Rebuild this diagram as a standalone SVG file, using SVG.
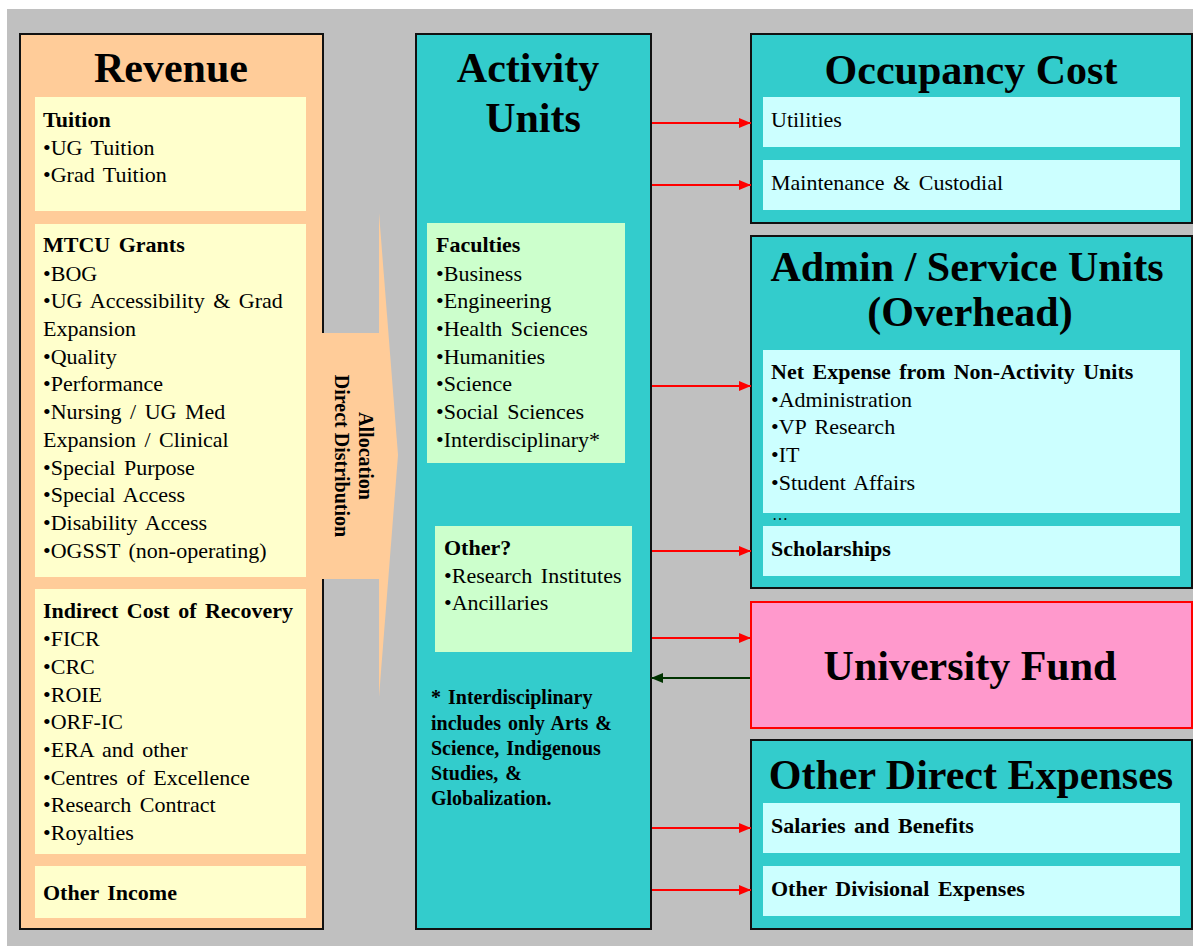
<svg xmlns="http://www.w3.org/2000/svg" width="1193" height="946" viewBox="0 0 1193 946">
<defs>
<style>
.t{font-family:"Liberation Serif","Times New Roman",serif;fill:#000}
.title{font-size:42px;font-weight:bold;text-anchor:middle}
.b{font-size:22px;word-spacing:3px}
.bb{font-size:22px;font-weight:bold;word-spacing:3px}
.note{font-size:20px;font-weight:bold;word-spacing:2px}
.outer{stroke:#111;stroke-width:2}
.red{stroke:#FF0000;stroke-width:2;fill:none}
</style>
<marker id="ah" viewBox="0 0 12 10" refX="12" refY="5" markerWidth="12" markerHeight="10" markerUnits="userSpaceOnUse" orient="auto">
<path d="M0,0 L12,5 L0,10 z" fill="#FF0000"/>
</marker>
<marker id="ahg" viewBox="0 0 12 10" refX="12" refY="5" markerWidth="12" markerHeight="10" markerUnits="userSpaceOnUse" orient="auto">
<path d="M0,0 L12,5 L0,10 z" fill="#003300"/>
</marker>
</defs>
<rect x="0" y="0" width="1193" height="946" fill="#FFFFFF"/>
<rect x="7" y="9" width="1186" height="937" fill="#C0C0C0"/>

<g id="revenue">
<rect class="outer" x="20" y="34" width="303" height="895" fill="#FFCC99"/>
<text class="t title" x="171" y="82">Revenue</text>
<rect x="35" y="97" width="271" height="114" fill="#FFFFCC"/>
<text class="t bb" x="43" y="127">Tuition</text>
<text class="t b" x="43" y="155">•UG Tuition</text>
<text class="t b" x="43" y="182">•Grad Tuition</text>
<rect x="35" y="224" width="271" height="353" fill="#FFFFCC"/>
<text class="t bb" x="43" y="252">MTCU Grants</text>
<text class="t b" x="43" y="281">•BOG</text>
<text class="t b" x="43" y="308">•UG Accessibility &amp; Grad</text>
<text class="t b" x="43" y="336">Expansion</text>
<text class="t b" x="43" y="364">•Quality</text>
<text class="t b" x="43" y="391">•Performance</text>
<text class="t b" x="43" y="419">•Nursing / UG Med</text>
<text class="t b" x="43" y="447">Expansion / Clinical</text>
<text class="t b" x="43" y="475">•Special Purpose</text>
<text class="t b" x="43" y="502">•Special Access</text>
<text class="t b" x="43" y="530">•Disability Access</text>
<text class="t b" x="43" y="558">•OGSST (non-operating)</text>
<rect x="35" y="589" width="271" height="265" fill="#FFFFCC"/>
<text class="t bb" x="43" y="618">Indirect Cost of Recovery</text>
<text class="t b" x="43" y="646">•FICR</text>
<text class="t b" x="43" y="674">•CRC</text>
<text class="t b" x="43" y="702">•ROIE</text>
<text class="t b" x="43" y="729">•ORF-IC</text>
<text class="t b" x="43" y="757">•ERA and other</text>
<text class="t b" x="43" y="785">•Centres of Excellence</text>
<text class="t b" x="43" y="812">•Research Contract</text>
<text class="t b" x="43" y="840">•Royalties</text>
<rect x="35" y="866" width="271" height="52" fill="#FFFFCC"/>
<text class="t bb" x="43" y="900">Other Income</text>
</g>

<g id="allocation">
<path d="M322,333 L379,333 L379,213 L398,455 L379,697 L379,579 L322,579 z" fill="#FFCC99"/>
<text class="t" font-size="20" font-weight="bold" text-anchor="middle" transform="translate(359,456) rotate(90)">Allocation</text>
<text class="t" font-size="20" font-weight="bold" text-anchor="middle" transform="translate(335,456) rotate(90)">Direct Distribution</text>
</g>

<g id="activity-units">
<rect class="outer" x="416" y="34" width="235" height="895" fill="#33CCCC"/>
<text class="t title" x="528" y="82">Activity</text>
<text class="t title" x="533" y="132">Units</text>
<rect x="427" y="223" width="198" height="240" fill="#CCFFCC"/>
<text class="t bb" x="436" y="252">Faculties</text>
<text class="t b" x="436" y="281">•Business</text>
<text class="t b" x="436" y="308">•Engineering</text>
<text class="t b" x="436" y="336">•Health Sciences</text>
<text class="t b" x="436" y="364">•Humanities</text>
<text class="t b" x="436" y="391">•Science</text>
<text class="t b" x="436" y="419">•Social Sciences</text>
<text class="t b" x="436" y="447">•Interdisciplinary*</text>
<rect x="435" y="526" width="197" height="126" fill="#CCFFCC"/>
<text class="t bb" x="444" y="555">Other?</text>
<text class="t b" x="444" y="583">•Research Institutes</text>
<text class="t b" x="444" y="610">•Ancillaries</text>
<text class="t note" x="431" y="704">* Interdisciplinary</text>
<text class="t note" x="431" y="730">includes only Arts &amp;</text>
<text class="t note" x="431" y="755">Science, Indigenous</text>
<text class="t note" x="431" y="780">Studies, &amp;</text>
<text class="t note" x="431" y="805">Globalization.</text>
</g>

<g id="occupancy-cost">
<rect class="outer" x="751" y="34" width="441" height="189" fill="#33CCCC"/>
<text class="t title" x="971" y="84">Occupancy Cost</text>
<rect x="763" y="97" width="417" height="50" fill="#CCFFFF"/>
<text class="t b" x="771" y="127">Utilities</text>
<rect x="763" y="160" width="417" height="50" fill="#CCFFFF"/>
<text class="t b" x="771" y="190">Maintenance &amp; Custodial</text>
</g>

<g id="admin-service-units">
<rect class="outer" x="751" y="236" width="441" height="352" fill="#33CCCC"/>
<text class="t title" x="967" y="281" font-size="38">Admin / Service Units</text>
<text class="t title" x="970" y="326" font-size="38">(Overhead)</text>
<rect x="763" y="350" width="417" height="163" fill="#CCFFFF"/>
<text class="t bb" x="771" y="379">Net Expense from Non-Activity Units</text>
<text class="t b" x="771" y="407">•Administration</text>
<text class="t b" x="771" y="434">•VP Research</text>
<text class="t b" x="771" y="462">•IT</text>
<text class="t b" x="771" y="490">•Student Affairs</text>
<text class="t" font-size="16" x="772" y="520">…</text>
<rect x="763" y="526" width="417" height="50" fill="#CCFFFF"/>
<text class="t bb" x="771" y="556">Scholarships</text>
</g>

<g id="university-fund">
<rect x="751" y="602" width="441" height="126" fill="#FF99CC" stroke="#FF0000" stroke-width="2"/>
<text class="t title" x="970" y="680">University Fund</text>
</g>

<g id="other-direct-expenses">
<rect class="outer" x="751" y="740" width="441" height="189" fill="#33CCCC"/>
<text class="t title" x="971" y="789">Other Direct Expenses</text>
<rect x="763" y="803" width="417" height="50" fill="#CCFFFF"/>
<text class="t bb" x="771" y="833">Salaries and Benefits</text>
<rect x="763" y="866" width="417" height="50" fill="#CCFFFF"/>
<text class="t bb" x="771" y="896">Other Divisional  Expenses</text>
</g>

<g id="connectors">
<line class="red" x1="652" y1="123" x2="751" y2="123" marker-end="url(#ah)"/>
<line class="red" x1="652" y1="185" x2="751" y2="185" marker-end="url(#ah)"/>
<line class="red" x1="652" y1="386" x2="751" y2="386" marker-end="url(#ah)"/>
<line class="red" x1="652" y1="551" x2="751" y2="551" marker-end="url(#ah)"/>
<line class="red" x1="652" y1="638" x2="751" y2="638" marker-end="url(#ah)"/>
<line x1="750" y1="678" x2="651" y2="678" stroke="#003300" stroke-width="2" marker-end="url(#ahg)"/>
<line class="red" x1="652" y1="828" x2="751" y2="828" marker-end="url(#ah)"/>
<line class="red" x1="652" y1="890" x2="751" y2="890" marker-end="url(#ah)"/>
</g>
</svg>
